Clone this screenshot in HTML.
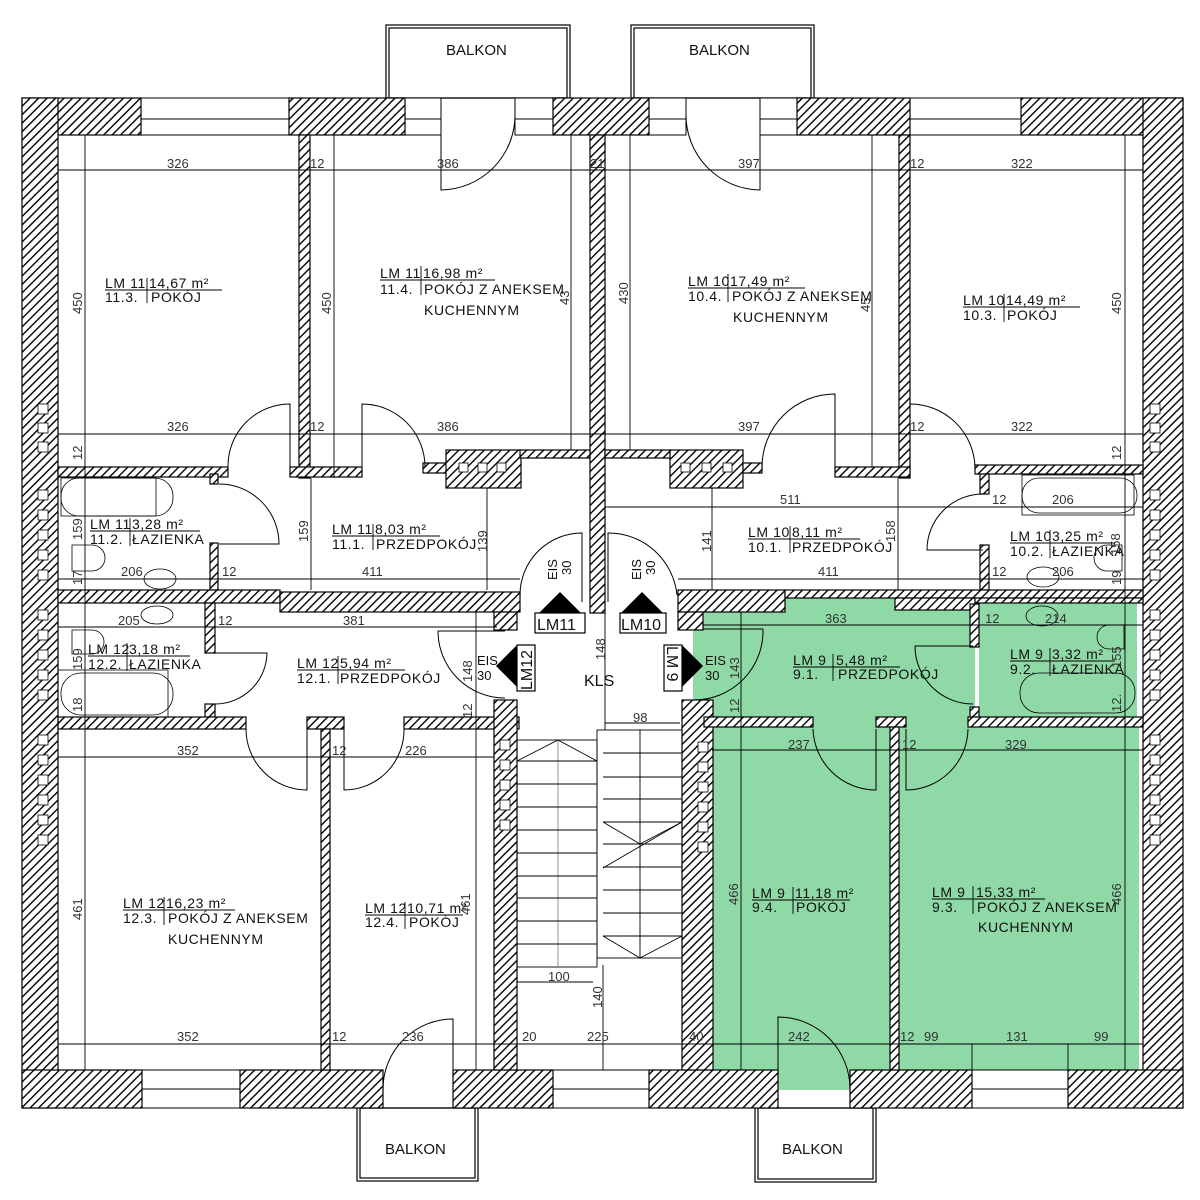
<!DOCTYPE html>
<html><head><meta charset="utf-8"><style>
html,body{margin:0;padding:0;background:#fff}
svg{display:block}
text{font-family:"Liberation Sans",sans-serif;font-size:13px;fill:#111}
.d text{fill:#333}
.r text{font-size:14px;letter-spacing:0.6px}
</style></head><body>
<svg width="1200" height="1200" viewBox="0 0 1200 1200" xmlns="http://www.w3.org/2000/svg">
<defs>
<pattern id="h" width="6" height="6" patternUnits="userSpaceOnUse" patternTransform="rotate(45)">
<rect width="6" height="6" fill="#fff"/><line x1="0" y1="0" x2="0" y2="6" stroke="#000" stroke-width="2.8"/></pattern>
</defs>
<g fill="#8fd9a6">
<rect x="693" y="630" width="282" height="87"/>
<rect x="703" y="612" width="272" height="105"/>
<rect x="785" y="598" width="190" height="20"/>
<rect x="979" y="603" width="158" height="114"/>
<rect x="712" y="727" width="178" height="343"/>
<rect x="778" y="1060" width="72" height="30"/>
<rect x="899" y="727" width="240" height="343"/>
<rect x="813" y="715" width="63" height="14"/>
<rect x="906" y="715" width="62" height="14"/>
</g>
<g fill="none" stroke="#000" stroke-width="1.2">
<rect x="386" y="25" width="184" height="73"/><rect x="389" y="28" width="178" height="70"/>
<rect x="631" y="25" width="183" height="73"/><rect x="634" y="28" width="177" height="70"/>
<rect x="357" y="1108" width="121" height="73"/><rect x="360" y="1108" width="115" height="70"/>
<rect x="755" y="1108" width="121" height="74"/><rect x="758" y="1108" width="115" height="71"/>
</g>
<g fill="#fff" stroke="#000" stroke-width="1">
<rect x="141" y="98" width="148" height="37"/><line x1="141" y1="119" x2="289" y2="119"/>
<rect x="405" y="98" width="36" height="37"/><line x1="405" y1="119" x2="441" y2="119"/>
<rect x="515" y="98" width="38" height="37"/><line x1="515" y1="119" x2="553" y2="119"/>
<rect x="649" y="98" width="37" height="37"/><line x1="649" y1="119" x2="686" y2="119"/>
<rect x="760" y="98" width="37" height="37"/><line x1="760" y1="119" x2="797" y2="119"/>
<rect x="910" y="98" width="111" height="37"/><line x1="910" y1="119" x2="1021" y2="119"/>
<rect x="142" y="1070" width="98" height="38"/><line x1="142" y1="1089" x2="240" y2="1089"/>
<rect x="553" y="1070" width="96" height="38"/><line x1="553" y1="1089" x2="649" y2="1089"/>
<rect x="972" y="1070" width="96" height="38"/><line x1="972" y1="1089" x2="1068" y2="1089"/>
</g>
<g fill="url(#h)" stroke="#000" stroke-width="1.2">
<rect x="22" y="98" width="119" height="37"/>
<rect x="289" y="98" width="116" height="37"/>
<rect x="553" y="98" width="96" height="37"/>
<rect x="797" y="98" width="113" height="37"/>
<rect x="1021" y="98" width="162" height="37"/>
<rect x="22" y="98" width="36" height="1010"/>
<rect x="1143" y="98" width="40" height="1010"/>
<rect x="22" y="1070" width="120" height="38"/>
<rect x="240" y="1070" width="143" height="38"/>
<rect x="453" y="1070" width="100" height="38"/>
<rect x="649" y="1070" width="129" height="38"/>
<rect x="850" y="1070" width="122" height="38"/>
<rect x="1068" y="1070" width="115" height="38"/>
<rect x="299" y="135" width="11" height="343"/>
<rect x="899" y="135" width="11" height="343"/>
<rect x="590" y="135" width="15" height="478"/>
<rect x="58" y="467" width="170" height="10"/>
<rect x="290" y="467" width="72" height="10"/>
<rect x="423" y="463" width="24" height="10"/>
<rect x="446" y="450" width="75" height="38"/>
<rect x="520" y="450" width="70" height="8"/>
<rect x="605" y="450" width="65" height="8"/>
<rect x="670" y="450" width="73" height="38"/>
<rect x="743" y="463" width="19" height="10"/>
<rect x="835" y="467" width="75" height="10"/>
<rect x="975" y="465" width="168" height="9"/>
<rect x="210" y="474" width="8" height="10"/>
<rect x="210" y="543" width="8" height="47"/>
<rect x="980" y="474" width="9" height="20"/>
<rect x="980" y="545" width="9" height="45"/>
<rect x="58" y="590" width="222" height="13"/>
<rect x="280" y="592" width="240" height="20"/>
<rect x="494" y="612" width="23" height="18"/>
<rect x="678" y="590" width="107" height="22"/>
<rect x="678" y="612" width="25" height="18"/>
<rect x="785" y="590" width="358" height="8"/>
<rect x="895" y="598" width="80" height="12"/>
<rect x="975" y="598" width="168" height="5"/>
<rect x="205" y="603" width="10" height="50"/>
<rect x="205" y="704" width="10" height="13"/>
<rect x="970" y="604" width="9" height="43"/>
<rect x="970" y="707" width="9" height="10"/>
<rect x="58" y="717" width="188" height="12"/>
<rect x="307" y="717" width="37" height="12"/>
<rect x="404" y="717" width="115" height="12"/>
<rect x="494" y="700" width="23" height="370"/>
<rect x="682" y="700" width="31" height="370"/>
<rect x="704" y="717" width="109" height="10"/>
<rect x="876" y="717" width="30" height="10"/>
<rect x="968" y="717" width="175" height="10"/>
<rect x="321" y="729" width="9" height="341"/>
<rect x="890" y="727" width="9" height="343"/>
</g>
<g fill="#fff" stroke="#000" stroke-width="0.8">
<rect x="38" y="404" width="10" height="10"/><rect x="38" y="423" width="10" height="10"/><rect x="38" y="442" width="10" height="10"/>
<rect x="38" y="490" width="10" height="10"/><rect x="38" y="510" width="10" height="10"/><rect x="38" y="530" width="10" height="10"/><rect x="38" y="550" width="10" height="10"/><rect x="38" y="570" width="10" height="10"/>
<rect x="38" y="610" width="10" height="10"/><rect x="38" y="630" width="10" height="10"/><rect x="38" y="650" width="10" height="10"/><rect x="38" y="670" width="10" height="10"/><rect x="38" y="690" width="10" height="10"/>
<rect x="38" y="735" width="10" height="10"/><rect x="38" y="755" width="10" height="10"/><rect x="38" y="775" width="10" height="10"/><rect x="38" y="795" width="10" height="10"/><rect x="38" y="815" width="10" height="10"/><rect x="38" y="835" width="10" height="10"/>
<rect x="1150" y="404" width="10" height="10"/><rect x="1150" y="423" width="10" height="10"/><rect x="1150" y="442" width="10" height="10"/>
<rect x="1150" y="490" width="10" height="10"/><rect x="1150" y="510" width="10" height="10"/><rect x="1150" y="530" width="10" height="10"/><rect x="1150" y="550" width="10" height="10"/><rect x="1150" y="570" width="10" height="10"/>
<rect x="1150" y="610" width="10" height="10"/><rect x="1150" y="630" width="10" height="10"/><rect x="1150" y="650" width="10" height="10"/><rect x="1150" y="670" width="10" height="10"/><rect x="1150" y="690" width="10" height="10"/>
<rect x="1150" y="735" width="10" height="10"/><rect x="1150" y="755" width="10" height="10"/><rect x="1150" y="775" width="10" height="10"/><rect x="1150" y="795" width="10" height="10"/><rect x="1150" y="815" width="10" height="10"/><rect x="1150" y="835" width="10" height="10"/>
<rect x="500" y="740" width="10" height="10"/><rect x="500" y="760" width="10" height="10"/><rect x="500" y="780" width="10" height="10"/><rect x="500" y="800" width="10" height="10"/><rect x="500" y="820" width="10" height="10"/>
<rect x="698" y="742" width="10" height="10"/><rect x="698" y="762" width="10" height="10"/><rect x="698" y="782" width="10" height="10"/><rect x="698" y="802" width="10" height="10"/><rect x="698" y="822" width="10" height="10"/><rect x="698" y="842" width="10" height="10"/>
<rect x="459" y="463" width="9" height="9"/><rect x="478" y="463" width="9" height="9"/><rect x="497" y="463" width="9" height="9"/>
<rect x="681" y="463" width="9" height="9"/><rect x="702" y="463" width="9" height="9"/><rect x="723" y="463" width="9" height="9"/>
</g>
<g stroke="#000" stroke-width="0.9" fill="none">
<line x1="58" y1="170" x2="1143" y2="170"/><line x1="58" y1="434" x2="1143" y2="434"/>
<line x1="85" y1="135" x2="85" y2="1070"/>
<line x1="334" y1="135" x2="334" y2="478"/><line x1="571" y1="135" x2="571" y2="450"/>
<line x1="630" y1="135" x2="630" y2="450"/><line x1="872" y1="135" x2="872" y2="467"/>
<line x1="1125" y1="135" x2="1125" y2="1070"/>
<line x1="605" y1="507" x2="1143" y2="507"/>
<line x1="58" y1="579" x2="520" y2="579"/><line x1="678" y1="579" x2="1143" y2="579"/>
<line x1="58" y1="627" x2="497" y2="627"/><line x1="703" y1="625" x2="1143" y2="625"/>
<line x1="58" y1="757" x2="494" y2="757"/><line x1="712" y1="750" x2="1143" y2="750"/>
<line x1="58" y1="1044" x2="1143" y2="1044"/>
<line x1="311" y1="478" x2="311" y2="590"/><line x1="487" y1="488" x2="487" y2="590"/>
<line x1="712" y1="488" x2="712" y2="590"/><line x1="898" y1="478" x2="898" y2="590"/>
<line x1="476" y1="612" x2="476" y2="1070"/><line x1="741" y1="612" x2="741" y2="1070"/>
<line x1="605" y1="613" x2="605" y2="730"/><line x1="605" y1="723" x2="680" y2="723"/>
<line x1="603" y1="965" x2="603" y2="1070"/>
<line x1="517" y1="982" x2="593" y2="982"/>
<line x1="972" y1="1044" x2="972" y2="1070"/><line x1="1068" y1="1044" x2="1068" y2="1070"/>
</g>
<g stroke="#000" stroke-width="0.9" fill="none">
<rect x="517" y="740" width="80" height="227"/>
<line x1="558" y1="740" x2="558" y2="967" stroke="#888"/>
<polyline points="517,761 558,740 597,761"/>
<line x1="517" y1="761" x2="597" y2="761"/><line x1="517" y1="784" x2="597" y2="784"/><line x1="517" y1="807" x2="597" y2="807"/><line x1="517" y1="830" x2="597" y2="830"/><line x1="517" y1="853" x2="597" y2="853"/><line x1="517" y1="876" x2="597" y2="876"/><line x1="517" y1="898" x2="597" y2="898"/><line x1="517" y1="921" x2="597" y2="921"/><line x1="517" y1="944" x2="597" y2="944"/>
<rect x="597" y="730" width="85" height="228"/>
<line x1="640" y1="730" x2="640" y2="958"/>
<line x1="603" y1="753" x2="682" y2="753"/><line x1="603" y1="777" x2="682" y2="777"/><line x1="603" y1="799" x2="682" y2="799"/><line x1="603" y1="822" x2="682" y2="822"/><line x1="603" y1="844" x2="682" y2="844"/><line x1="603" y1="867" x2="682" y2="867"/><line x1="603" y1="890" x2="682" y2="890"/><line x1="603" y1="913" x2="682" y2="913"/><line x1="603" y1="936" x2="682" y2="936"/>
<polyline points="603,822 640,844 682,822"/><line x1="603" y1="868" x2="682" y2="822"/>
<polyline points="603,936 640,958 682,936"/>
</g>
<g stroke="#000" stroke-width="1" fill="none">
<path d="M441,98 L441,190 A75,75 0 0 0 515,115"/>
<path d="M760,98 L760,190 A75,75 0 0 1 686,115"/>
<path d="M290,467 L290,404 A62,62 0 0 0 228,467"/>
<path d="M362,467 L362,404 A63,63 0 0 1 425,467"/>
<path d="M835,467 L835,394 A73,73 0 0 0 762,467"/>
<path d="M910,467 L910,404 A65,65 0 0 1 975,467"/>
<path d="M219,484 A60,60 0 0 1 279,544 L219,544"/>
<path d="M983,494 A56,56 0 0 0 927,550 L983,550"/>
<path d="M215,653 L267,653 A52,52 0 0 1 215,704"/>
<path d="M307,729 L307,790 A61,61 0 0 1 246,729"/>
<path d="M344,729 L344,790 A60,60 0 0 0 404,729"/>
<path d="M453,1070 L453,1019 A70,70 0 0 0 383,1089"/>
<path d="M778,1108 L778,1017 A72,72 0 0 1 850,1089"/>
<path d="M763,629 L703,629 M763,629 A69,69 0 0 1 694,700"/>
<path d="M973,646 L915,646 A58,58 0 0 0 973,704"/>
<path d="M813,729 A63,63 0 0 0 876,790 L876,729"/>
<path d="M906,729 L906,790 A62,62 0 0 0 968,729"/>
<path d="M505,631 L438,631 A67,67 0 0 0 505,698"/>
<path d="M582,602 L582,533 A62,62 0 0 0 520,595"/>
<path d="M608,602 L608,533 A69,69 0 0 1 677,595"/>
</g>
<g stroke="#000" stroke-width="0.8" fill="none">
<rect x="61" y="478" width="112" height="38" rx="18"/><rect x="61" y="478" width="95" height="38"/>
<rect x="61" y="673" width="112" height="42" rx="20"/><rect x="58" y="670" width="110" height="47"/>
<ellipse cx="160" cy="579" rx="16" ry="10"/><ellipse cx="157" cy="615" rx="16" ry="9"/>
<path d="M72,545 h20 a13,13 0 0 1 0,26 h-20 z"/><path d="M72,630 h20 a12,12 0 0 1 0,24 h-20 z"/>
<rect x="1022" y="478" width="115" height="35" rx="17"/><rect x="1022" y="475" width="112" height="40"/>
<rect x="1020" y="673" width="115" height="40" rx="19"/>
<ellipse cx="1043" cy="577" rx="16" ry="10"/><ellipse cx="1042" cy="616" rx="16" ry="10"/>
<path d="M1122,545 h-15 a13,13 0 0 0 0,26 h15 z"/><path d="M1124,625 h-15 a12,12 0 0 0 0,24 h15 z"/>
</g>
<g fill="#000">
<polygon points="539,613 560,592 581,613"/>
<polygon points="621,613 642,592 663,613"/>
<polygon points="517,645 496,666 517,687"/>
<polygon points="682,645 703,666 682,687"/>
</g>
<g fill="#fff" stroke="#000" stroke-width="1.2">
<rect x="535" y="613" width="50" height="20"/><rect x="620" y="613" width="46" height="20"/>
<rect x="517" y="645" width="18" height="46"/><rect x="664" y="645" width="18" height="46"/>
</g>
<g>
<text x="537" y="630" style="font-size:16px">LM11</text>
<text x="621" y="630" style="font-size:16px">LM10</text>
<text transform="translate(532,690) rotate(-90)" style="font-size:16px">LM12</text>
<text transform="translate(667,646) rotate(90)" style="font-size:16px">LM 9</text>
</g>
<g style="font-size:12px">
<text transform="translate(557,580) rotate(-90)">EIS</text><text transform="translate(571,575) rotate(-90)">30</text>
<text transform="translate(641,580) rotate(-90)">EIS</text><text transform="translate(655,575) rotate(-90)">30</text>
<text x="477" y="665">EIS</text><text x="477" y="680">30</text>
<text x="705" y="665">EIS</text><text x="705" y="680">30</text>
</g>
<text x="446" y="55" style="font-size:15px">BALKON</text>
<text x="689" y="55" style="font-size:15px">BALKON</text>
<text x="385" y="1154" style="font-size:15px">BALKON</text>
<text x="782" y="1154" style="font-size:15px">BALKON</text>
<text x="584" y="686" style="font-size:16px">KLS</text>
<g class="d">
<text x="167" y="168">326</text><text x="310" y="168">12</text><text x="437" y="168">386</text><text x="590" y="168">21</text><text x="738" y="168">397</text><text x="910" y="168">12</text><text x="1011" y="168">322</text>
<text x="167" y="431">326</text><text x="310" y="431">12</text><text x="437" y="431">386</text><text x="738" y="431">397</text><text x="910" y="431">12</text><text x="1011" y="431">322</text>
<text x="780" y="504">511</text><text x="992" y="504">12</text><text x="1052" y="504">206</text>
<text x="121" y="576">206</text><text x="222" y="576">12</text><text x="362" y="576">411</text><text x="818" y="576">411</text><text x="992" y="576">12</text><text x="1052" y="576">206</text>
<text x="118" y="625">205</text><text x="218" y="625">12</text><text x="343" y="625">381</text><text x="825" y="623">363</text><text x="985" y="623">12</text><text x="1045" y="623">214</text>
<text x="633" y="722">98</text>
<text x="177" y="755">352</text><text x="332" y="755">12</text><text x="405" y="755">226</text><text x="788" y="749">237</text><text x="902" y="749">12</text><text x="1005" y="749">329</text>
<text x="548" y="981">100</text>
<text x="177" y="1041">352</text><text x="332" y="1041">12</text><text x="402" y="1041">236</text><text x="522" y="1041">20</text><text x="587" y="1041">225</text><text x="689" y="1041">40</text><text x="788" y="1041">242</text><text x="900" y="1041">12</text><text x="924" y="1041">99</text><text x="1006" y="1041">131</text><text x="1094" y="1041">99</text>
<text transform="translate(82,314) rotate(-90)">450</text>
<text transform="translate(331,314) rotate(-90)">450</text>
<text transform="translate(569,305) rotate(-90)">43</text>
<text transform="translate(628,304) rotate(-90)">430</text>
<text transform="translate(870,312) rotate(-90)">45</text>
<text transform="translate(1121,314) rotate(-90)">450</text>
<text transform="translate(82,460) rotate(-90)">12</text>
<text transform="translate(1121,460) rotate(-90)">12</text>
<text transform="translate(82,540) rotate(-90)">159</text>
<text transform="translate(308,542) rotate(-90)">159</text>
<text transform="translate(487,552) rotate(-90)">139</text>
<text transform="translate(711,552) rotate(-90)">141</text>
<text transform="translate(895,542) rotate(-90)">158</text>
<text transform="translate(1120,555) rotate(-90)">158</text>
<text transform="translate(82,585) rotate(-90)">17</text>
<text transform="translate(1121,585) rotate(-90)">19</text>
<text transform="translate(82,670) rotate(-90)">159</text>
<text transform="translate(82,712) rotate(-90)">18</text>
<text transform="translate(472,682) rotate(-90)">148</text>
<text transform="translate(472,718) rotate(-90)">12</text>
<text transform="translate(605,660) rotate(-90)">148</text>
<text transform="translate(739,679) rotate(-90)">143</text>
<text transform="translate(739,713) rotate(-90)">12</text>
<text transform="translate(1121,668) rotate(-90)">155</text>
<text transform="translate(1121,712) rotate(-90)">12.</text>
<text transform="translate(82,920) rotate(-90)">461</text>
<text transform="translate(470,915) rotate(-90)">461</text>
<text transform="translate(738,905) rotate(-90)">466</text>
<text transform="translate(1121,905) rotate(-90)">466</text>
<text transform="translate(602,1008) rotate(-90)">140</text>
</g>
<g stroke="#000" stroke-width="0.9">
<line x1="105" y1="290" x2="222" y2="290"/><line x1="147" y1="278" x2="147" y2="303"/>
<line x1="380" y1="280" x2="495" y2="280"/><line x1="421" y1="266" x2="421" y2="295"/>
<line x1="688" y1="288" x2="805" y2="288"/><line x1="728" y1="274" x2="728" y2="302"/>
<line x1="963" y1="307" x2="1080" y2="307"/><line x1="1004" y1="294" x2="1004" y2="322"/>
<line x1="90" y1="531" x2="200" y2="531"/><line x1="130" y1="518" x2="130" y2="546"/>
<line x1="332" y1="536" x2="440" y2="536"/><line x1="373" y1="524" x2="373" y2="550"/>
<line x1="748" y1="539" x2="860" y2="539"/><line x1="790" y1="526" x2="790" y2="553"/>
<line x1="1010" y1="543" x2="1115" y2="543"/><line x1="1050" y1="530" x2="1050" y2="558"/>
<line x1="88" y1="656" x2="190" y2="656"/><line x1="127" y1="643" x2="127" y2="671"/>
<line x1="297" y1="670" x2="405" y2="670"/><line x1="338" y1="656" x2="338" y2="684"/>
<line x1="793" y1="667" x2="900" y2="667"/><line x1="833" y1="654" x2="833" y2="681"/>
<line x1="1010" y1="661" x2="1115" y2="661"/><line x1="1050" y1="648" x2="1050" y2="676"/>
<line x1="123" y1="910" x2="235" y2="910"/><line x1="164" y1="897" x2="164" y2="925"/>
<line x1="365" y1="915" x2="463" y2="915"/><line x1="405" y1="902" x2="405" y2="929"/>
<line x1="752" y1="900" x2="850" y2="900"/><line x1="793" y1="887" x2="793" y2="914"/>
<line x1="932" y1="899" x2="1045" y2="899"/><line x1="973" y1="886" x2="973" y2="914"/>
</g>
<g class="r">
<text x="105" y="288">LM 11</text><text x="149" y="288">14,67  m²</text><text x="105" y="302">11.3.</text><text x="151" y="302">POKÓJ</text>
<text x="380" y="278">LM 11</text><text x="423" y="278">16,98  m²</text><text x="380" y="294">11.4.</text><text x="424" y="294">POKÓJ Z ANEKSEM</text><text x="424" y="315">KUCHENNYM</text>
<text x="688" y="286">LM 10</text><text x="730" y="286">17,49  m²</text><text x="688" y="301">10.4.</text><text x="732" y="301">POKÓJ Z ANEKSEM</text><text x="733" y="322">KUCHENNYM</text>
<text x="963" y="305">LM 10</text><text x="1006" y="305">14,49  m²</text><text x="963" y="320">10.3.</text><text x="1007" y="320">POKÓJ</text>
<text x="90" y="529">LM 11</text><text x="132" y="529">3,28  m²</text><text x="90" y="544">11.2.</text><text x="132" y="544">ŁAZIENKA</text>
<text x="332" y="534">LM 11</text><text x="375" y="534">8,03  m²</text><text x="332" y="549">11.1.</text><text x="376" y="549">PRZEDPOKÓJ</text>
<text x="748" y="537">LM 10</text><text x="792" y="537">8,11  m²</text><text x="748" y="552">10.1.</text><text x="792" y="552">PRZEDPOKÓJ</text>
<text x="1010" y="541">LM 10</text><text x="1052" y="541">3,25  m²</text><text x="1010" y="556">10.2.</text><text x="1052" y="556">ŁAZIENKA</text>
<text x="88" y="654">LM 12</text><text x="129" y="654">3,18  m²</text><text x="88" y="669">12.2.</text><text x="129" y="669">ŁAZIENKA</text>
<text x="297" y="668">LM 12</text><text x="340" y="668">5,94  m²</text><text x="297" y="683">12.1.</text><text x="340" y="683">PRZEDPOKÓJ</text>
<text x="793" y="665">LM  9</text><text x="836" y="665">5,48  m²</text><text x="793" y="679">9.1.</text><text x="838" y="679">PRZEDPOKÓJ</text>
<text x="1010" y="659">LM  9</text><text x="1052" y="659">3,32  m²</text><text x="1010" y="674">9.2.</text><text x="1052" y="674">ŁAZIENKA</text>
<text x="123" y="908">LM 12</text><text x="166" y="908">16,23  m²</text><text x="123" y="923">12.3.</text><text x="168" y="923">POKÓJ Z ANEKSEM</text><text x="168" y="944">KUCHENNYM</text>
<text x="365" y="913">LM 12</text><text x="407" y="913">10,71  m²</text><text x="365" y="927">12.4.</text><text x="409" y="927">POKÓJ</text>
<text x="752" y="898">LM  9</text><text x="795" y="898">11,18  m²</text><text x="752" y="912">9.4.</text><text x="796" y="912">POKÓJ</text>
<text x="932" y="897">LM  9</text><text x="976" y="897">15,33  m²</text><text x="932" y="912">9.3.</text><text x="977" y="912">POKÓJ Z ANEKSEM</text><text x="978" y="932">KUCHENNYM</text>
</g>
</svg>
</body></html>
